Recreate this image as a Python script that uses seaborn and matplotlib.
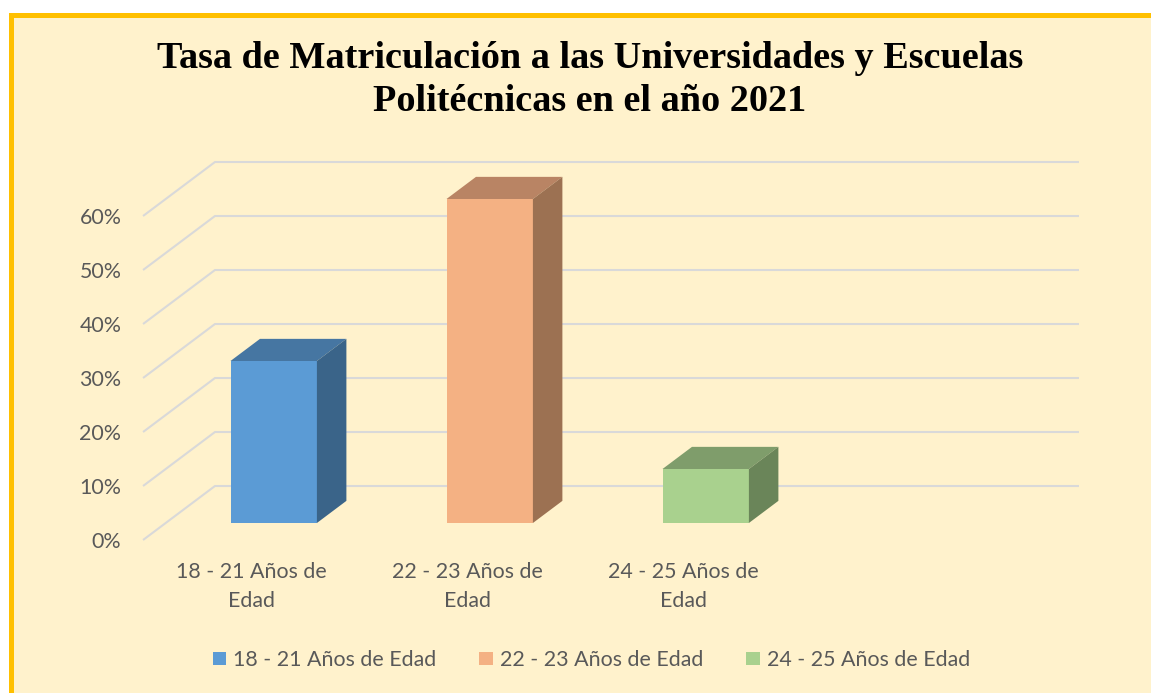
import matplotlib
matplotlib.use("Agg")
import matplotlib.pyplot as plt
import seaborn as sns
from matplotlib.patches import Polygon, Rectangle

categories = ["18 - 21 Años de Edad", "22 - 23 Años de Edad", "24 - 25 Años de Edad"]
tick_labels = ["18 - 21 Años de\nEdad", "22 - 23 Años de\nEdad", "24 - 25 Años de\nEdad"]
tasa = [0.30, 0.60, 0.10]
y_ticks = [0.0, 0.1, 0.2, 0.3, 0.4, 0.5, 0.6]

front_colors = ["#5B9BD5", "#F4B183", "#A9D18E"]
top_colors = ["#4676A2", "#B98464", "#7F9D6B"]
side_colors = ["#3A6489", "#9C7152", "#6A8559"]

W, H = 1151, 693
n_slots = 4  # excel keeps an empty 4th slot on the category axis

# oblique "3d" look: depth vector of the floor in (category, value) units
depth = (0.333, 0.10)
front_frac = 0.315  # bars sit this far behind the front edge
bar_depth = 0.41

sns.set_theme(style="white")
plt.rcParams["font.family"] = ["Lato", "DejaVu Sans"]

fig = plt.figure(figsize=(W / 100, H / 100), dpi=100)
fig.patch.set_facecolor("white")
fig.patches.append(Rectangle((10.5 / W, -0.1), 1.2, (H - 15.5) / H + 0.1,
                             transform=fig.transFigure, facecolor="#FFF2CC",
                             edgecolor="#FFC000", linewidth=3.6, zorder=-5))

# axes placed so that 1 category = 216 px and 10% = 54 px
x0, x1 = -0.65, 3.8
y0, y1 = -0.05, 0.70
px_left = 273.7 + 216 * x0
px_right = 273.7 + 216 * x1
py_bottom = 523 - 540 * y0
py_top = 523 - 540 * y1
ax = fig.add_axes([px_left / W, 1 - py_bottom / H,
                   (px_right - px_left) / W, (py_bottom - py_top) / H])
ax.set_facecolor("none")

fx, fy = -front_frac * depth[0], -front_frac * depth[1]
bx, by = fx + depth[0], fy + depth[1]
xl, xr = -0.5, n_slots - 0.5
for v in y_ticks:
    ax.plot([xl + fx, xl + bx, xr + bx], [v + fy, v + by, v + by],
            color="#D9D9D9", lw=1.5, zorder=0, solid_capstyle="butt")

sns.barplot(x=categories, y=tasa, hue=categories, palette=front_colors,
            width=0.4, saturation=1, legend=True, ax=ax, zorder=2)

dx, dy = bar_depth * depth[0], bar_depth * depth[1]
for cont, tc, sc in zip(ax.containers, top_colors, side_colors):
    for bar in cont:
        bar.set_edgecolor("none")
        a = bar.get_x()
        b = a + bar.get_width()
        h = bar.get_height()
        ax.add_patch(Polygon([(a, h), (a + dx, h + dy), (b + dx, h + dy), (b, h)],
                             closed=True, facecolor=tc, edgecolor="none", zorder=3))
        ax.add_patch(Polygon([(b, 0), (b + dx, dy), (b + dx, h + dy), (b, h)],
                             closed=True, facecolor=sc, edgecolor="none", zorder=3))

ax.set_xlim(x0, x1)
ax.set_ylim(y0, y1)
ax.set_xticks([i + fx for i in range(len(categories))], tick_labels)
ax.set_yticks([v + fy for v in y_ticks], [f"{v:.0%}" for v in y_ticks])
ax.tick_params(length=0, labelsize=15.4, colors="#595959")
ax.tick_params(axis="y", pad=8.5)
ax.tick_params(axis="x", pad=8.5)
for lbl in ax.get_xticklabels():
    lbl.set_linespacing(1.55)
ax.set_xlabel("")
ax.set_ylabel("")
for s in ax.spines.values():
    s.set_visible(False)

handles, labels = ax.get_legend_handles_labels()
ax.get_legend().remove()
for hd in handles:
    hd.set_edgecolor("none")
fig.legend(handles, labels, loc="center", bbox_to_anchor=(591.5 / W, 1 - 660 / H),
           ncol=3, frameon=False, handlelength=0.62, handleheight=0.62,
           handletextpad=0.35, columnspacing=2.0, fontsize=15.4, labelcolor="#595959")

fig.text(590 / W, 1 - 80 / H,
         "Tasa de Matriculación a las Universidades y Escuelas\nPolitécnicas en el año 2021",
         ha="center", va="center", fontsize=27.5, fontweight="bold", color="black",
         family=["Liberation Serif", "DejaVu Serif"], linespacing=1.3)

fig.savefig("out.png", dpi=100, facecolor=fig.get_facecolor())
